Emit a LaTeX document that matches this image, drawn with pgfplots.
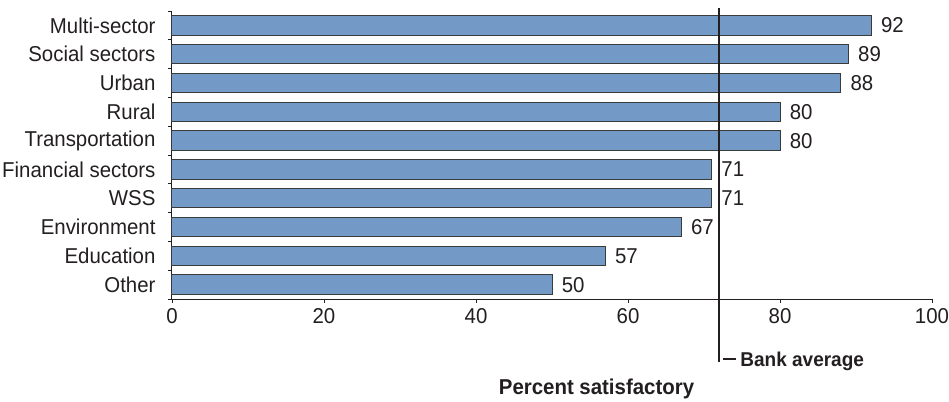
\documentclass[border=0pt]{standalone}
\usepackage{pgfplots}
\pgfplotsset{compat=1.18}
\usepackage{fontspec}
\setmainfont{Liberation Sans}[FakeStretch=0.95]
\definecolor{barblue}{HTML}{7399C6}
\definecolor{txt}{HTML}{231F20}
\definecolor{edge}{HTML}{3A3A3A}
\begin{document}
\begin{tikzpicture}
\path[use as bounding box] (-172pt,-102pt) rectangle (777pt,299pt);
\begin{axis}[
  at={(0,0)}, anchor=south west,
  scale only axis, width=760pt, height=288pt,
  xmin=0, xmax=100, ymin=-0.5, ymax=9.5,
  clip=false,
  axis x line*=bottom, axis y line*=left,
  axis line style={txt, line width=1pt},
  xtick={0,20,...,100},
  ytick={0,...,9},
  yticklabels={Other,Education,Environment,WSS,Financial sectors,Transportation,Rural,Urban,Social sectors,Multi-sector},
  ytick style={draw=none},
  xtick style={draw=txt, line width=0.8pt},
  tick align=outside,
  major tick length=4pt,
  extra y ticks={-0.5,0.5,1.5,2.5,3.5,4.5,5.5,6.5,7.5,8.5,9.5},
  extra y tick labels={},
  extra y tick style={ytick style={draw=txt, line width=0.8pt}},
  /pgf/number format/assume math mode=true,
  ticklabel style={font=\fontsize{21.5}{24}\selectfont, text=txt},
  yticklabel style={xshift=-9pt},
  xticklabel style={yshift=-2pt},
  xlabel={Percent satisfactory},
  xlabel style={font=\bfseries\fontsize{21.5}{24}\selectfont, text=txt, at={(axis description cs:0.5586,-0.333)}, anchor=base},
]
\addplot[xbar, bar width=19.5pt, fill=barblue, draw=edge, line width=1pt,
  nodes near coords, point meta=x,
  nodes near coords style={font=\fontsize{21.5}{24}\selectfont, text=txt, anchor=west, xshift=6pt}]
  coordinates {
    (50,0) (57,1) (67,2) (71,3) (71,4) (80,5) (80,6) (88,7) (89,8) (92,9)
  };
\addplot[txt, line width=2pt, forget plot] coordinates {(72,-2.69) (72,9.6)};
\node[anchor=base west, inner sep=0pt, text=txt, font=\bfseries\fontsize{20}{22}\selectfont]
  at (axis cs:72,-2.83) {\hspace{4pt}\rule[0.33em]{13pt}{1.3pt}\hspace{4pt}Bank average};
\end{axis}
\end{tikzpicture}
\end{document}
